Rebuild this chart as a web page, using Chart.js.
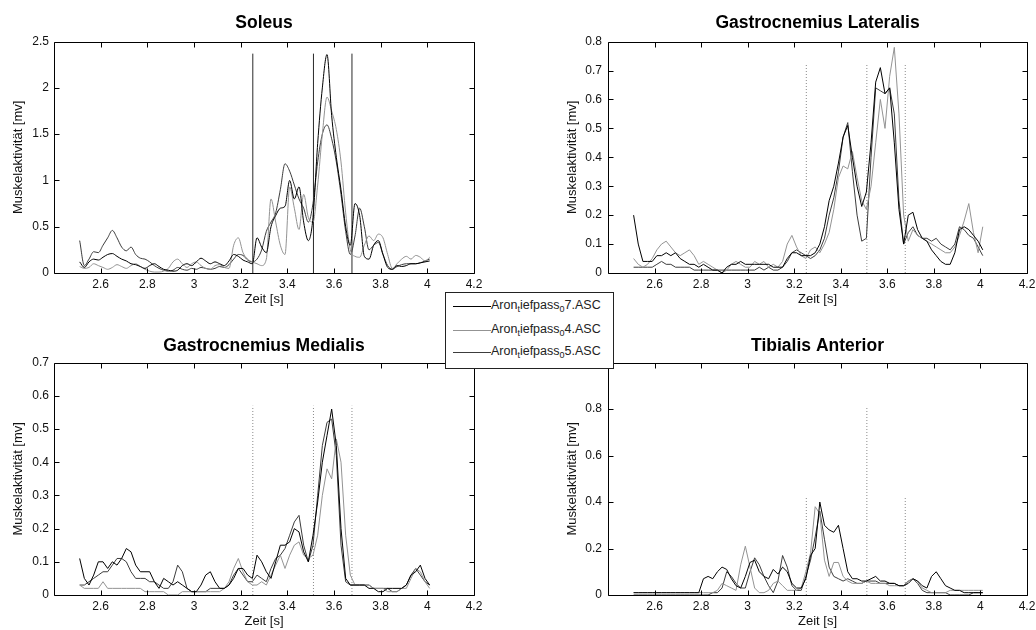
<!DOCTYPE html>
<html>
<head>
<meta charset="utf-8">
<script src="https://cdn.jsdelivr.net/npm/chart.js@4.4.1/dist/chart.umd.min.js"></script>
<style>
html, body { margin:0; padding:0; background:#fff; width:1036px; height:630px; overflow:hidden; position:relative; font-family:"Liberation Sans", Arial, sans-serif; }
.cv { position:absolute; }
#legend { position:absolute; left:445px; top:292px; width:167px; height:75px; border:1px solid #222; background:#fff; z-index:5; }
#legend .row { position:absolute; left:0; width:167px; height:20px; }
#legend .sw { position:absolute; left:7px; width:38px; top:10px; height:0; border-top:1px solid #000; }
#legend .tx { position:absolute; left:45px; top:1px; font-size:12.5px; line-height:16px; color:#222; white-space:nowrap; }
#legend sub { font-size:9px; vertical-align:-3px; line-height:0; }
</style>
</head>
<body>
<canvas id="c1" class="cv" width="490" height="309" style="left:0px;top:0px"></canvas>
<canvas id="c2" class="cv" width="487" height="309" style="left:556px;top:0px"></canvas>
<canvas id="c3" class="cv" width="490" height="310" style="left:0px;top:321px"></canvas>
<canvas id="c4" class="cv" width="487" height="310" style="left:556px;top:321px"></canvas>
<div id="legend"></div>
<script>
// ---------------- DATA ----------------
const seriesNames = ["Aron_tiefpass_07.ASC", "Aron_tiefpass_04.ASC", "Aron_tiefpass_05.ASC"];
const seriesColors = ["#000000", "#939393", "#3c3c3c"];

const time = [
  2.51, 2.53, 2.55, 2.57, 2.59, 2.61, 2.63, 2.65, 2.67, 2.69,
  2.71, 2.73, 2.75, 2.77, 2.79, 2.81, 2.83, 2.85, 2.87, 2.89,
  2.91, 2.93, 2.95, 2.97, 2.99, 3.01, 3.03, 3.05, 3.07, 3.09,
  3.11, 3.13, 3.15, 3.17, 3.19, 3.21, 3.23, 3.25, 3.27, 3.29,
  3.31, 3.33, 3.35, 3.37, 3.39, 3.41, 3.43, 3.45, 3.47, 3.49,
  3.51, 3.53, 3.55, 3.57, 3.59, 3.61, 3.63, 3.65, 3.67, 3.69,
  3.71, 3.73, 3.75, 3.77, 3.79, 3.81, 3.83, 3.85, 3.87, 3.89,
  3.91, 3.93, 3.95, 3.97, 3.99, 4.01
];

// Soleus
const soleus07 = [
  0.12, 0.06, 0.12, 0.15, 0.14, 0.17, 0.20, 0.21, 0.18, 0.15,
  0.13, 0.10, 0.09, 0.07, 0.05, 0.08, 0.10, 0.07, 0.04, 0.03,
  0.02, 0.03, 0.08, 0.10, 0.08, 0.12, 0.16, 0.13, 0.10, 0.12,
  0.10, 0.08, 0.13, 0.20, 0.18, 0.14, 0.12, 0.10, 0.38, 0.28,
  0.22, 0.50, 0.62, 0.70, 0.72, 1.00, 0.80, 0.93, 0.55, 0.35,
  0.60, 1.40, 2.00, 2.36, 1.70, 1.25, 0.90, 0.50, 0.30, 0.75,
  0.62, 0.18, 0.15, 0.30, 0.35, 0.20, 0.06, 0.04, 0.08, 0.07,
  0.08, 0.10, 0.10, 0.11, 0.12, 0.13
];
const soleus04 = [
  0.07, 0.05, 0.06, 0.10, 0.08, 0.06, 0.04, 0.06, 0.09, 0.07,
  0.05, 0.08, 0.10, 0.07, 0.04, 0.02, 0.01, 0.01, 0.02, 0.05,
  0.12, 0.15, 0.10, 0.06, 0.10, 0.12, 0.08, 0.05, 0.04, 0.08,
  0.09, 0.06, 0.05, 0.30, 0.38, 0.22, 0.15, 0.12, 0.10, 0.08,
  0.15, 0.80, 0.55, 0.30, 0.20, 0.93, 0.70, 0.47, 0.85, 0.60,
  0.55, 0.95, 1.50, 1.90, 1.75, 1.55, 1.20, 0.65, 0.25, 0.18,
  0.17, 0.30, 0.40, 0.35, 0.42, 0.38, 0.20, 0.05, 0.10, 0.15,
  0.18, 0.15, 0.19, 0.17, 0.13, 0.17
];
const soleus05 = [
  0.35, 0.08, 0.15, 0.23, 0.22, 0.30, 0.38, 0.46, 0.38, 0.28,
  0.24, 0.28, 0.20, 0.16, 0.15, 0.12, 0.08, 0.05, 0.03, 0.02,
  0.03, 0.06, 0.04, 0.03, 0.05, 0.04, 0.06, 0.05, 0.04, 0.05,
  0.07, 0.06, 0.09, 0.15, 0.20, 0.19, 0.14, 0.12, 0.15, 0.25,
  0.45, 0.55, 0.65, 0.90, 1.18, 1.10, 0.95, 0.80, 0.70, 0.55,
  0.75, 1.20, 1.50, 1.60, 1.45, 1.20, 0.85, 0.45, 0.20, 0.40,
  0.70, 0.50, 0.25, 0.30, 0.33, 0.20, 0.08, 0.04, 0.07, 0.09,
  0.10, 0.10, 0.10, 0.11, 0.13, 0.15
];

// Gastrocnemius Lateralis
const gl07 = [
  0.20, 0.10, 0.04, 0.04, 0.04, 0.06, 0.06, 0.07, 0.06, 0.07,
  0.05, 0.04, 0.03, 0.03, 0.02, 0.03, 0.02, 0.01, 0.01, 0.00,
  0.02, 0.03, 0.03, 0.04, 0.03, 0.03, 0.03, 0.03, 0.03, 0.03,
  0.02, 0.02, 0.02, 0.05, 0.07, 0.07, 0.06, 0.06, 0.06, 0.07,
  0.10, 0.16, 0.25, 0.30, 0.38, 0.47, 0.51, 0.40, 0.30, 0.23,
  0.28, 0.45, 0.66, 0.71, 0.62, 0.64, 0.45, 0.22, 0.10, 0.20,
  0.21, 0.15, 0.12, 0.11, 0.08, 0.06, 0.04, 0.03, 0.03, 0.07,
  0.15, 0.16, 0.15, 0.13, 0.11, 0.08
];
const gl04 = [
  0.05, 0.03, 0.02, 0.03, 0.05, 0.08, 0.10, 0.11, 0.09, 0.07,
  0.06, 0.07, 0.08, 0.06, 0.03, 0.04, 0.03, 0.02, 0.01, 0.00,
  0.01, 0.03, 0.04, 0.03, 0.02, 0.02, 0.04, 0.03, 0.04, 0.02,
  0.03, 0.02, 0.04, 0.10, 0.13, 0.09, 0.06, 0.05, 0.08, 0.09,
  0.07, 0.10, 0.14, 0.22, 0.33, 0.37, 0.36, 0.42, 0.33, 0.25,
  0.22, 0.30, 0.45, 0.60, 0.50, 0.68, 0.78, 0.55, 0.20, 0.11,
  0.15, 0.13, 0.12, 0.11, 0.10, 0.09, 0.08, 0.07, 0.07, 0.09,
  0.13, 0.18, 0.24, 0.14, 0.07, 0.16
];
const gl05 = [
  0.02, 0.02, 0.02, 0.02, 0.02, 0.03, 0.04, 0.03, 0.03, 0.02,
  0.02, 0.02, 0.02, 0.01, 0.01, 0.01, 0.01, 0.01, 0.01, 0.01,
  0.01, 0.01, 0.01, 0.01, 0.01, 0.01, 0.01, 0.02, 0.01, 0.02,
  0.01, 0.01, 0.02, 0.04, 0.07, 0.08, 0.07, 0.06, 0.05, 0.06,
  0.08, 0.12, 0.20, 0.26, 0.35, 0.47, 0.52, 0.35, 0.20, 0.11,
  0.12, 0.40, 0.64, 0.63, 0.62, 0.64, 0.55, 0.25, 0.10, 0.14,
  0.16, 0.13, 0.12, 0.12, 0.11, 0.12, 0.10, 0.09, 0.08, 0.10,
  0.16, 0.15, 0.13, 0.12, 0.09, 0.06
];

// Gastrocnemius Medialis
const gm07 = [
  0.11, 0.05, 0.03, 0.06, 0.10, 0.10, 0.08, 0.10, 0.09, 0.11,
  0.14, 0.13, 0.09, 0.07, 0.07, 0.07, 0.04, 0.02, 0.05, 0.04,
  0.03, 0.04, 0.03, 0.02, 0.01, 0.01, 0.03, 0.06, 0.07, 0.04,
  0.02, 0.02, 0.03, 0.05, 0.08, 0.08, 0.06, 0.05, 0.12, 0.10,
  0.07, 0.05, 0.10, 0.15, 0.15, 0.16, 0.20, 0.19, 0.13, 0.10,
  0.18, 0.28, 0.40, 0.48, 0.56, 0.45, 0.20, 0.05, 0.03, 0.03,
  0.03, 0.03, 0.02, 0.02, 0.01, 0.01, 0.02, 0.02, 0.02, 0.02,
  0.03, 0.06, 0.07, 0.09, 0.05, 0.03
];
const gm04 = [
  0.03, 0.02, 0.02, 0.02, 0.02, 0.04, 0.02, 0.02, 0.02, 0.02,
  0.02, 0.02, 0.02, 0.02, 0.01, 0.01, 0.01, 0.01, 0.01, 0.00,
  0.00, 0.00, 0.01, 0.01, 0.01, 0.01, 0.01, 0.01, 0.01, 0.01,
  0.01, 0.02, 0.04, 0.08, 0.11, 0.07, 0.04, 0.03, 0.03, 0.04,
  0.03, 0.06, 0.09, 0.12, 0.08, 0.12, 0.15, 0.16, 0.12, 0.11,
  0.12, 0.18, 0.30, 0.38, 0.35, 0.47, 0.40, 0.18, 0.06, 0.03,
  0.03, 0.03, 0.03, 0.02, 0.02, 0.02, 0.01, 0.01, 0.01, 0.02,
  0.02, 0.05, 0.08, 0.07, 0.04, 0.02
];
const gm05 = [
  0.03, 0.03, 0.04, 0.05, 0.06, 0.07, 0.07, 0.09, 0.11, 0.11,
  0.10, 0.07, 0.05, 0.05, 0.05, 0.04, 0.04, 0.03, 0.02, 0.02,
  0.04, 0.09, 0.07, 0.02, 0.01, 0.01, 0.01, 0.01, 0.02, 0.02,
  0.02, 0.02, 0.03, 0.06, 0.08, 0.06, 0.04, 0.04, 0.06, 0.05,
  0.04, 0.08, 0.11, 0.12, 0.14, 0.18, 0.22, 0.24, 0.15, 0.10,
  0.15, 0.30, 0.45, 0.52, 0.53, 0.42, 0.15, 0.04, 0.03, 0.03,
  0.03, 0.03, 0.03, 0.02, 0.02, 0.02, 0.02, 0.01, 0.01, 0.02,
  0.03, 0.06, 0.08, 0.06, 0.04, 0.03
];

// Tibialis Anterior
const ta07 = [
  0.01, 0.01, 0.01, 0.01, 0.01, 0.01, 0.01, 0.01, 0.01, 0.01,
  0.01, 0.01, 0.01, 0.01, 0.01, 0.07, 0.08, 0.07, 0.10, 0.12,
  0.11, 0.07, 0.04, 0.03, 0.08, 0.14, 0.15, 0.10, 0.08, 0.07,
  0.11, 0.09, 0.12, 0.10, 0.05, 0.03, 0.03, 0.07, 0.17, 0.20,
  0.40, 0.30, 0.28, 0.27, 0.30, 0.20, 0.10, 0.07, 0.07, 0.06,
  0.06, 0.07, 0.08, 0.06, 0.06, 0.05, 0.05, 0.04, 0.04, 0.05,
  0.07, 0.06, 0.04, 0.03, 0.08, 0.10, 0.07, 0.04, 0.03, 0.02,
  0.02, 0.01, 0.01, 0.01, 0.01, 0.01
];
const ta04 = [
  0.01, 0.01, 0.01, 0.01, 0.01, 0.01, 0.01, 0.01, 0.01, 0.01,
  0.01, 0.01, 0.01, 0.01, 0.01, 0.01, 0.01, 0.01, 0.02, 0.05,
  0.04, 0.03, 0.02, 0.13, 0.21, 0.12, 0.03, 0.01, 0.01, 0.02,
  0.05, 0.06, 0.04, 0.02, 0.02, 0.02, 0.03, 0.10, 0.18, 0.38,
  0.35, 0.15, 0.08, 0.14, 0.14, 0.08, 0.06, 0.05, 0.05, 0.05,
  0.06, 0.05, 0.05, 0.05, 0.05, 0.04, 0.04, 0.04, 0.04, 0.06,
  0.07, 0.06, 0.03, 0.02, 0.01, 0.01, 0.01, 0.01, 0.02, 0.02,
  0.02, 0.02, 0.02, 0.02, 0.02, 0.02
];
const ta05 = [
  0.00, 0.00, 0.00, 0.00, 0.00, 0.00, 0.00, 0.00, 0.00, 0.00,
  0.00, 0.00, 0.00, 0.00, 0.00, 0.00, 0.00, 0.01, 0.01, 0.03,
  0.10, 0.08, 0.05, 0.03, 0.03, 0.10, 0.16, 0.13, 0.08, 0.04,
  0.01, 0.06, 0.17, 0.12, 0.04, 0.02, 0.02, 0.08, 0.15, 0.25,
  0.36, 0.24, 0.12, 0.08, 0.07, 0.06, 0.07, 0.06, 0.05, 0.05,
  0.06, 0.06, 0.06, 0.05, 0.05, 0.05, 0.05, 0.04, 0.04, 0.06,
  0.07, 0.05, 0.02, 0.01, 0.01, 0.01, 0.01, 0.01, 0.00, 0.00,
  0.00, 0.00, 0.00, 0.01, 0.01, 0.01
];

// event marker lines (time positions and heights per panel)
const markerTimes = [3.252, 3.512, 3.677];
const markerSoleus = [2.37, 2.37, 2.37];
const markerGL = [0.72, 0.72, 0.72];
const markerGM = [0.57, 0.57, 0.57];
const markerTA = [0.42, 0.81, 0.42];

// axes / ticks
const xTicks = [2.6, 2.8, 3.0, 3.2, 3.4, 3.6, 3.8, 4.0, 4.2];
const yTicksSoleus = [0, 0.5, 1, 1.5, 2, 2.5];
const yTicksGL = [0, 0.1, 0.2, 0.3, 0.4, 0.5, 0.6, 0.7, 0.8];
const yTicksGM = [0, 0.1, 0.2, 0.3, 0.4, 0.5, 0.6, 0.7];
const yTicksTA = [0, 0.2, 0.4, 0.6, 0.8];
const xLabel = "Zeit [s]";
const yLabel = "Muskelaktivität [mv]";

// ---------------- RENDERING ----------------
const FONT = "'Liberation Sans', Arial, Helvetica, sans-serif";

const frameTicks = {
  id: 'frameTicks',
  afterDatasetsDraw(chart) {
    const {ctx, chartArea: a, scales} = chart;
    const x = scales.x, y = scales.y;
    const L = Math.round(a.left) + 0.5, R = Math.round(a.right) + 0.5;
    const T = Math.round(a.top) + 0.5, B = Math.round(a.bottom) + 0.5;
    const TL = 5;
    ctx.save();
    ctx.strokeStyle = '#000';
    ctx.lineWidth = 1;
    ctx.beginPath();
    ctx.rect(L, T, R - L, B - T);
    x.ticks.forEach(t => {
      const px = Math.round(x.getPixelForValue(t.value)) + 0.5;
      ctx.moveTo(px, B); ctx.lineTo(px, B - TL);
      ctx.moveTo(px, T); ctx.lineTo(px, T + TL);
    });
    y.ticks.forEach(t => {
      const py = Math.round(y.getPixelForValue(t.value)) + 0.5;
      ctx.moveTo(L, py); ctx.lineTo(L + TL, py);
      ctx.moveTo(R, py); ctx.lineTo(R - TL, py);
    });
    ctx.stroke();
    ctx.restore();
  }
};

function fmt(v) { return String(Number(Number(v).toFixed(2))); }

function makeChart(id, g) {
  const datasets = [];
  g.series.forEach((arr, i) => {
    datasets.push({
      label: seriesNames[i],
      data: time.map((t, k) => ({x: t, y: arr[k]})),
      borderColor: seriesColors[i],
      borderWidth: 1,
      pointRadius: 0,
      fill: false,
      tension: g.smooth ? 0.4 : 0,
      cubicInterpolationMode: g.smooth ? 'monotone' : 'default'
    });
  });
  markerTimes.forEach((t, i) => {
    datasets.push({
      label: 'marker' + i,
      data: [{x: t, y: 0}, {x: t, y: g.markers[i]}],
      borderColor: g.markerSolid ? '#2a2a2a' : '#8a8a8a',
      borderDash: g.markerSolid ? [] : [1, 2],
      borderWidth: 1,
      pointRadius: 0,
      fill: false,
      tension: 0
    });
  });
  return new Chart(document.getElementById(id), {
    type: 'line',
    data: {datasets},
    plugins: [frameTicks],
    options: {
      responsive: false,
      animation: false,
      devicePixelRatio: 1,
      layout: {padding: {left: 0, right: 16, top: 0, bottom: 0}},
      plugins: {
        legend: {display: false},
        tooltip: {enabled: false},
        title: {
          display: true,
          text: g.title,
          fullSize: false,
          color: '#000',
          font: {family: FONT, size: 17.5, weight: 'bold', lineHeight: 1.2},
          padding: {top: g.titleTop, bottom: g.titleBottom}
        }
      },
      scales: {
        x: {
          type: 'linear',
          min: 2.4,
          max: 4.2,
          afterBuildTicks: s => { s.ticks = xTicks.map(v => ({value: v})); },
          afterFit: s => { s.height = 36; },
          grid: {display: false, drawTicks: false},
          border: {display: false},
          ticks: {
            autoSkip: false, maxRotation: 0, padding: 4, color: '#111',
            font: {family: FONT, size: 12},
            callback: v => fmt(v)
          },
          title: {
            display: true, text: xLabel, color: '#111',
            font: {family: FONT, size: 13, lineHeight: 1.2},
            padding: {top: 0, bottom: 1.7}
          }
        },
        y: {
          type: 'linear',
          min: 0,
          max: g.ymax,
          afterBuildTicks: s => { s.ticks = g.yTicks.map(v => ({value: v})); },
          afterFit: s => { s.width = g.yWidth; },
          grid: {display: false, drawTicks: false},
          border: {display: false},
          ticks: {
            autoSkip: false, padding: g.yTickPad, color: '#111',
            font: {family: FONT, size: 12},
            callback: v => fmt(v)
          },
          title: {
            display: true, text: yLabel, color: '#111',
            font: {family: FONT, size: 13, lineHeight: 1.2},
            padding: {top: g.yTitlePad, bottom: 0}
          }
        }
      }
    }
  });
}

makeChart('c1', {title: 'Soleus', series: [soleus07, soleus04, soleus05], smooth: true,
  markers: markerSoleus, markerSolid: true, ymax: 2.5, yTicks: yTicksSoleus,
  yWidth: 54, yTickPad: 5, yTitlePad: 10.2, titleTop: 12.8, titleBottom: 7.8});
makeChart('c2', {title: 'Gastrocnemius Lateralis', series: [gl07, gl04, gl05], smooth: false,
  markers: markerGL, markerSolid: false, ymax: 0.8, yTicks: yTicksGL,
  yWidth: 52, yTickPad: 6, yTitlePad: 8.2, titleTop: 12.8, titleBottom: 7.8});
makeChart('c3', {title: 'Gastrocnemius Medialis', series: [gm07, gm04, gm05], smooth: false,
  markers: markerGM, markerSolid: false, ymax: 0.7, yTicks: yTicksGM,
  yWidth: 54, yTickPad: 5, yTitlePad: 10.2, titleTop: 15.1, titleBottom: 5.5});
makeChart('c4', {title: 'Tibialis Anterior', series: [ta07, ta04, ta05], smooth: false,
  markers: markerTA, markerSolid: false, ymax: 1.0, yTicks: yTicksTA,
  yWidth: 52, yTickPad: 6, yTitlePad: 8.2, titleTop: 15.1, titleBottom: 5.5});

// ---------------- LEGEND (MATLAB TeX-style subscripts) ----------------
function texSub(s) {
  let out = '';
  for (let i = 0; i < s.length; i++) {
    if (s[i] === '_' && i + 1 < s.length) { out += '<sub>' + s[i + 1] + '</sub>'; i++; }
    else out += s[i];
  }
  return out;
}
const legend = document.getElementById('legend');
const rowTops = [3, 27, 49];
seriesNames.forEach((n, i) => {
  const row = document.createElement('div');
  row.className = 'row';
  row.style.top = rowTops[i] + 'px';
  row.innerHTML = '<div class="sw" style="border-top-color:' + seriesColors[i] + '"></div><div class="tx">' + texSub(n) + '</div>';
  legend.appendChild(row);
});
</script>
</body>
</html>
